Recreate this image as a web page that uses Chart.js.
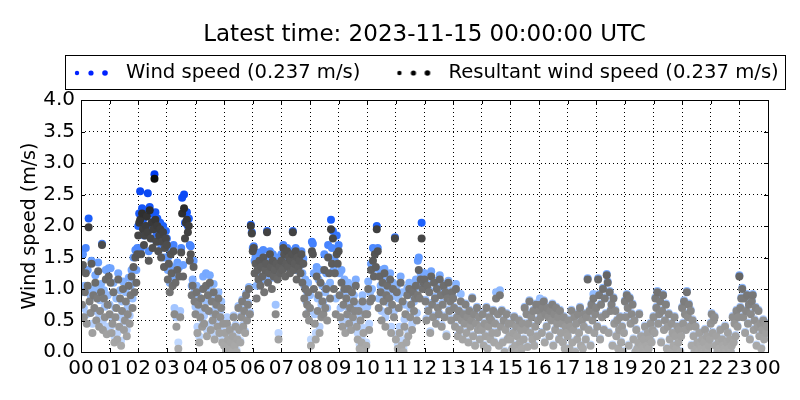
<!DOCTYPE html>
<html>
<head>
<meta charset="utf-8">
<script src="https://cdn.jsdelivr.net/npm/chart.js@4/dist/chart.umd.min.js"></script>
<style>
  html, body { margin: 0; padding: 0; background: #fff; }
  #wrap { width: 800px; height: 400px; }
</style>
</head>
<body>
<div id="wrap"><canvas id="chart" width="800" height="400"></canvas></div>
<script>
// one sample every 2 minutes, 30 per hour
const stepHours = 1 / 30;
const titleText = 'Latest time: 2023-11-15 00:00:00 UTC';
const seriesLabels = ['Wind speed (0.237 m/s)', 'Resultant wind speed (0.237 m/s)'];

const windSpeed = [
  1.60, 0.95, 1.55, 0.70, 1.05, 1.65, 0.60, 1.30, 2.12, 0.98, 0.90, 1.45, 0.45, 1.00, 0.88, 1.22, 0.65, 0.98, 1.42, 0.55, 0.82, 1.08, 1.72, 0.50, 0.98, 0.72, 1.30, 0.40, 0.90, 1.33, // 00
  0.75, 1.33, 0.42, 0.55, 1.10, 0.25, 0.70, 0.85, 0.30, 1.25, 0.55, 0.98, 0.18, 0.80, 1.12, 0.48, 0.62, 0.95, 0.35, 0.72, 1.18, 0.58, 1.05, 1.30, 0.85, 1.50, 1.10, 1.62, 1.30, 1.65, // 01
  2.00, 2.20, 2.55, 1.65, 2.28, 2.10, 1.85, 2.00, 2.15, 2.25, 2.52, 1.60, 2.30, 1.95, 2.20, 1.80, 2.08, 2.82, 2.22, 1.90, 2.12, 1.75, 1.98, 2.05, 1.65, 1.88, 2.00, 1.50, 1.78, 1.92, // 02
  1.80, 1.30, 1.52, 1.10, 1.60, 1.35, 1.20, 1.70, 0.70, 1.22, 0.55, 1.42, 0.15, 1.35, 0.65, 1.65, 2.45, 1.38, 2.50, 2.05, 2.20, 2.22, 2.00, 2.12, 1.70, 1.68, 1.05, 1.15, 1.45, 0.95, // 03
  0.72, 1.05, 0.40, 0.88, 0.25, 0.68, 1.00, 0.52, 1.20, 0.58, 0.82, 1.25, 0.35, 1.02, 0.80, 1.22, 0.45, 0.92, 0.62, 1.08, 0.28, 0.70, 0.85, 0.50, 0.95, 0.38, 0.65, 0.80, 0.22, 0.52, // 04
  0.13, 0.33, 0.05, 0.55, 0.23, 0.08, 0.38, 0.18, 0.03, 0.28, 0.58, 0.13, 0.43, 0.03, 0.23, 0.73, 0.38, 0.18, 0.58, 0.83, 0.43, 0.68, 0.33, 0.93, 0.53, 0.78, 1.03, 0.63, 2.02, 1.90, // 05
  1.65, 1.68, 1.45, 1.52, 1.05, 1.40, 1.35, 1.58, 1.20, 1.45, 1.38, 1.62, 1.15, 1.42, 1.50, 1.92, 1.25, 1.38, 1.60, 1.45, 1.18, 1.55, 1.32, 1.40, 0.75, 1.50, 1.28, 0.30, 1.48, 1.38, // 06
  1.55, 1.42, 1.70, 1.62, 1.35, 1.50, 1.65, 1.45, 1.58, 1.38, 1.52, 1.60, 1.92, 1.40, 1.48, 1.65, 1.30, 1.58, 1.45, 1.52, 1.38, 1.60, 1.25, 1.48, 1.05, 1.15, 0.80, 0.95, 1.10, 0.65, // 07
  0.90, 0.20, 1.75, 1.72, 1.25, 0.60, 0.30, 1.35, 0.85, 1.15, 0.40, 1.30, 0.75, 1.05, 0.80, 1.55, 0.95, 1.25, 0.70, 1.70, 1.50, 1.10, 2.10, 1.65, 1.92, 1.30, 1.45, 0.85, 1.85, 1.60, // 08
  1.70, 1.25, 0.70, 1.30, 0.50, 0.95, 1.15, 0.40, 0.95, 0.72, 1.10, 0.55, 0.82, 0.45, 1.05, 0.65, 0.90, 0.75, 1.15, 0.50, 0.30, 0.75, 0.12, 0.60, 0.22, 0.90, 0.38, 0.05, 0.70, 0.15, // 09
  0.72, 1.12, 0.45, 0.95, 1.40, 1.00, 1.65, 1.32, 1.62, 1.60, 2.00, 1.65, 0.85, 1.30, 1.05, 0.65, 1.22, 0.92, 1.32, 0.55, 1.00, 1.15, 0.78, 0.95, 1.25, 0.40, 0.88, 1.10, 0.65, 1.82, // 10
  0.28, 1.05, 0.12, 0.85, 0.40, 1.20, 0.18, 0.95, 0.05, 0.52, 0.75, 0.22, 1.02, 0.32, 1.10, 0.70, 0.90, 0.45, 1.05, 0.80, 1.00, 1.15, 0.62, 1.45, 1.50, 1.05, 1.25, 2.05, 1.12, 1.25, // 11
  1.25, 0.83, 0.53, 1.08, 0.68, 0.98, 0.33, 1.28, 0.78, 0.58, 1.13, 0.88, 0.55, 1.03, 0.73, 0.63, 1.22, 0.93, 0.43, 0.78, 1.08, 0.58, 0.98, 0.28, 0.88, 1.13, 0.68, 0.83, 0.53, 0.98, // 12
  0.87, 0.72, 0.42, 1.08, 0.57, 0.27, 0.67, 0.37, 0.92, 0.52, 0.22, 0.62, 0.47, 0.77, 0.32, 0.57, 0.17, 0.67, 0.42, 0.52, 0.87, 0.27, 0.62, 0.12, 0.47, 0.72, 0.37, 0.57, 0.22, 0.42, // 13
  0.37, 0.62, 0.12, 0.47, 0.27, 0.72, 0.07, 0.42, 0.57, 0.22, 0.52, 0.32, 0.67, 0.17, 0.47, 0.95, 0.32, 0.62, 0.12, 0.98, 0.42, 0.67, 0.17, 0.52, 0.02, 0.37, 0.62, 0.22, 0.47, 0.27, // 14
  0.22, 0.47, 0.07, 0.32, 0.57, 0.12, 0.42, 0.27, 0.02, 0.52, 0.17, 0.37, 0.07, 0.47, 0.22, 0.72, 0.37, 0.62, 0.10, 0.47, 0.82, 0.32, 0.57, 0.22, 0.67, 0.12, 0.42, 0.77, 0.27, 0.52, // 15
  0.67, 0.85, 0.57, 0.32, 0.72, 0.82, 0.17, 0.62, 0.42, 0.72, 0.57, 0.27, 0.67, 0.52, 0.77, 0.12, 0.62, 0.37, 0.72, 0.47, 0.57, 0.22, 0.67, 0.32, 0.47, 0.17, 0.57, 0.07, 0.42, 0.32, // 16
  0.27, 0.52, 0.07, 0.42, 0.67, 0.17, 0.37, 0.57, 0.02, 0.47, 0.22, 0.62, 0.32, 0.72, 0.12, 0.52, 0.07, 0.42, 0.62, 0.22, 0.57, 1.17, 0.37, 0.67, 0.12, 0.77, 0.52, 0.92, 0.32, 0.62, // 17
  0.72, 0.42, 1.17, 0.92, 0.22, 0.77, 0.57, 1.02, 0.37, 0.87, 0.62, 1.24, 1.12, 0.32, 0.97, 0.67, 0.77, 0.12, 0.87, 0.47, 0.67, 0.27, 0.52, 0.07, 0.37, 0.57, 0.17, 0.42, 0.02, 0.32, // 18
  0.82, 0.57, 0.92, 0.72, 0.12, 0.87, 0.47, 0.62, 0.77, 0.22, 0.52, 0.02, 0.37, 0.07, 0.17, 0.62, 0.02, 0.27, 0.12, 0.07, 0.22, 0.42, 0.34, 0.12, 0.32, 0.07, 0.22, 0.47, 0.17, 0.37, // 19
  0.57, 0.32, 0.87, 0.72, 0.97, 0.47, 0.62, 0.82, 0.17, 0.67, 0.92, 0.37, 0.52, 0.77, 0.07, 0.42, 0.62, 0.22, 0.02, 0.47, 0.32, 0.12, 0.57, 0.27, 0.07, 0.42, 0.17, 0.37, 0.02, 0.27, // 20
  0.72, 0.47, 0.82, 0.62, 0.37, 0.97, 0.57, 0.77, 0.42, 0.67, 0.12, 0.52, 0.27, 0.02, 0.42, 0.07, 0.17, 0.02, 0.32, 0.12, 0.07, 0.22, 0.02, 0.17, 0.37, 0.07, 0.27, 0.02, 0.12, 0.22, // 21
  0.47, 0.62, 0.32, 0.52, 0.57, 0.12, 0.27, 0.02, 0.17, 0.07, 0.37, 0.02, 0.22, 0.12, 0.07, 0.42, 0.02, 0.17, 0.32, 0.07, 0.22, 0.02, 0.12, 0.57, 0.17, 0.47, 0.27, 0.67, 0.42, 0.57, // 22
  1.22, 0.72, 0.87, 1.02, 0.57, 0.87, 0.32, 0.67, 0.92, 0.47, 0.77, 0.22, 0.62, 0.82, 0.92, 0.37, 0.52, 0.72, 0.12, 0.42, 0.67, 0.27, 0.47, 0.07, 0.37, 0.52, 0.22, 0.47, 0.32, 0.42  // 23
];

const resultantSpeed = [
  1.30, 0.75, 1.38, 0.55, 0.95, 1.25, 0.45, 1.05, 1.98, 0.80, 0.62, 1.40, 0.30, 0.90, 0.70, 1.10, 0.50, 0.85, 1.28, 0.40, 0.65, 0.95, 1.70, 0.35, 0.85, 0.55, 1.15, 0.28, 0.75, 1.20, // 00
  0.60, 1.10, 0.30, 0.45, 0.95, 0.15, 0.55, 0.70, 0.20, 1.15, 0.40, 0.85, 0.10, 0.65, 1.00, 0.35, 0.50, 0.80, 0.25, 0.60, 1.05, 0.45, 0.90, 1.20, 0.70, 1.35, 0.95, 1.50, 1.10, 1.55, // 01
  1.85, 2.05, 2.10, 1.55, 2.20, 1.95, 1.70, 1.85, 2.00, 2.15, 1.90, 1.45, 2.25, 1.80, 2.05, 1.65, 1.95, 2.75, 2.10, 1.75, 2.00, 1.60, 1.85, 1.95, 1.50, 1.75, 1.90, 1.35, 1.65, 1.80, // 02
  1.70, 1.15, 1.40, 0.95, 1.55, 1.25, 1.05, 1.60, 0.60, 1.10, 0.40, 1.30, 0.05, 1.20, 0.55, 1.58, 2.20, 1.20, 2.28, 1.80, 2.05, 2.10, 1.90, 2.00, 1.45, 1.55, 0.90, 1.05, 1.35, 0.80, // 03
  0.60, 0.95, 0.30, 0.75, 0.15, 0.55, 0.85, 0.40, 1.00, 0.45, 0.70, 1.05, 0.25, 0.90, 0.65, 1.10, 0.35, 0.80, 0.50, 0.95, 0.20, 0.60, 0.75, 0.40, 0.85, 0.30, 0.55, 0.70, 0.15, 0.45, // 04
  0.10, 0.30, 0.02, 0.45, 0.20, 0.05, 0.35, 0.15, 0.00, 0.25, 0.55, 0.10, 0.40, 0.00, 0.20, 0.70, 0.35, 0.15, 0.55, 0.80, 0.40, 0.65, 0.30, 0.90, 0.50, 0.75, 1.00, 0.60, 2.00, 1.88, // 05
  1.60, 1.65, 1.25, 1.40, 0.85, 1.30, 1.15, 1.45, 1.05, 1.35, 1.20, 1.50, 0.95, 1.30, 1.40, 1.90, 1.10, 1.25, 1.55, 1.35, 1.00, 1.45, 1.20, 1.30, 0.60, 1.40, 1.15, 0.20, 1.35, 1.25, // 06
  1.45, 1.30, 1.65, 1.55, 1.20, 1.40, 1.60, 1.35, 1.50, 1.25, 1.45, 1.55, 1.90, 1.30, 1.40, 1.60, 1.15, 1.50, 1.35, 1.45, 1.25, 1.55, 1.10, 1.40, 0.85, 1.00, 0.60, 0.75, 0.95, 0.50, // 07
  0.70, 0.10, 1.60, 1.55, 1.00, 0.45, 0.20, 1.20, 0.65, 0.90, 0.30, 1.10, 0.55, 0.80, 0.60, 1.30, 0.70, 1.00, 0.50, 1.50, 1.25, 0.85, 1.95, 1.40, 1.80, 1.00, 1.25, 0.60, 1.55, 1.40, // 08
  1.60, 0.90, 0.55, 1.10, 0.40, 0.75, 1.00, 0.30, 0.85, 0.60, 1.00, 0.45, 0.70, 0.35, 0.95, 0.55, 0.80, 0.65, 1.05, 0.40, 0.20, 0.65, 0.05, 0.50, 0.15, 0.80, 0.30, 0.00, 0.60, 0.10, // 09
  0.60, 1.00, 0.35, 0.80, 1.30, 0.85, 1.45, 1.20, 1.55, 1.35, 1.95, 1.60, 0.70, 1.20, 0.95, 0.50, 1.10, 0.80, 1.25, 0.40, 0.90, 1.05, 0.65, 0.85, 1.15, 0.30, 0.75, 1.00, 0.55, 1.80, // 10
  0.20, 0.95, 0.05, 0.70, 0.30, 1.10, 0.10, 0.80, 0.00, 0.40, 0.60, 0.15, 0.90, 0.25, 1.00, 0.55, 0.75, 0.35, 0.95, 0.65, 0.85, 1.05, 0.50, 0.90, 1.30, 0.85, 1.15, 1.80, 1.00, 1.10, // 11
  1.15, 0.80, 0.50, 1.05, 0.65, 0.95, 0.30, 1.20, 0.75, 0.55, 1.10, 0.85, 0.45, 1.00, 0.70, 0.60, 1.15, 0.90, 0.40, 0.75, 1.05, 0.55, 0.95, 0.25, 0.85, 1.10, 0.65, 0.80, 0.50, 0.95, // 12
  0.85, 0.70, 0.40, 1.00, 0.55, 0.25, 0.65, 0.35, 0.80, 0.50, 0.20, 0.60, 0.45, 0.75, 0.30, 0.55, 0.15, 0.65, 0.40, 0.50, 0.85, 0.25, 0.60, 0.10, 0.45, 0.70, 0.35, 0.55, 0.20, 0.40, // 13
  0.35, 0.60, 0.10, 0.45, 0.25, 0.70, 0.05, 0.40, 0.55, 0.20, 0.50, 0.30, 0.65, 0.15, 0.45, 0.85, 0.30, 0.60, 0.10, 0.90, 0.40, 0.65, 0.15, 0.50, 0.00, 0.35, 0.60, 0.20, 0.45, 0.25, // 14
  0.20, 0.45, 0.05, 0.30, 0.55, 0.10, 0.40, 0.25, 0.00, 0.50, 0.15, 0.35, 0.05, 0.45, 0.20, 0.70, 0.35, 0.60, 0.08, 0.45, 0.80, 0.30, 0.55, 0.20, 0.65, 0.10, 0.40, 0.75, 0.25, 0.50, // 15
  0.65, 0.75, 0.55, 0.30, 0.70, 0.80, 0.15, 0.60, 0.40, 0.70, 0.55, 0.25, 0.65, 0.50, 0.75, 0.10, 0.60, 0.35, 0.70, 0.45, 0.55, 0.20, 0.65, 0.30, 0.45, 0.15, 0.55, 0.05, 0.40, 0.30, // 16
  0.25, 0.50, 0.05, 0.40, 0.65, 0.15, 0.35, 0.55, 0.00, 0.45, 0.20, 0.60, 0.30, 0.70, 0.10, 0.50, 0.05, 0.40, 0.60, 0.20, 0.55, 1.15, 0.35, 0.65, 0.10, 0.75, 0.50, 0.85, 0.30, 0.60, // 17
  0.70, 0.40, 1.15, 0.90, 0.20, 0.75, 0.55, 1.00, 0.35, 0.85, 0.60, 1.22, 1.10, 0.30, 0.95, 0.65, 0.75, 0.10, 0.85, 0.45, 0.65, 0.25, 0.50, 0.05, 0.35, 0.55, 0.15, 0.40, 0.00, 0.30, // 18
  0.80, 0.55, 0.90, 0.70, 0.10, 0.85, 0.45, 0.60, 0.75, 0.20, 0.50, 0.00, 0.35, 0.05, 0.15, 0.60, 0.00, 0.25, 0.10, 0.05, 0.20, 0.40, 0.02, 0.10, 0.30, 0.05, 0.20, 0.45, 0.15, 0.35, // 19
  0.55, 0.30, 0.85, 0.70, 0.95, 0.45, 0.60, 0.80, 0.15, 0.65, 0.90, 0.35, 0.50, 0.75, 0.05, 0.40, 0.60, 0.20, 0.00, 0.45, 0.30, 0.10, 0.55, 0.25, 0.05, 0.40, 0.15, 0.35, 0.00, 0.25, // 20
  0.70, 0.45, 0.80, 0.60, 0.35, 0.95, 0.55, 0.75, 0.40, 0.65, 0.10, 0.50, 0.25, 0.00, 0.40, 0.05, 0.15, 0.00, 0.30, 0.10, 0.05, 0.20, 0.00, 0.15, 0.35, 0.05, 0.25, 0.00, 0.10, 0.20, // 21
  0.45, 0.60, 0.30, 0.50, 0.55, 0.10, 0.25, 0.00, 0.15, 0.05, 0.35, 0.00, 0.20, 0.10, 0.05, 0.40, 0.00, 0.15, 0.30, 0.05, 0.20, 0.00, 0.10, 0.55, 0.15, 0.45, 0.25, 0.65, 0.40, 0.55, // 22
  1.20, 0.70, 0.85, 1.00, 0.55, 0.85, 0.30, 0.65, 0.90, 0.45, 0.75, 0.20, 0.60, 0.80, 0.90, 0.35, 0.50, 0.70, 0.10, 0.40, 0.65, 0.25, 0.45, 0.05, 0.35, 0.50, 0.20, 0.45, 0.30, 0.40  // 23
];

// colour ramps: the point shade follows its speed
const greyStops = [[0, 172], [0.3, 160], [0.6, 138], [1.0, 112], [1.5, 88], [2.0, 60], [2.8, 10]];
const blueStops = [[0, [200, 222, 255]], [0.5, [178, 206, 255]], [1.0, [140, 184, 255]], [1.5, [95, 152, 255]], [2.0, [32, 100, 252]], [2.8, [0, 58, 240]]];

function ramp(stops, v) {
    if (v <= stops[0][0]) return stops[0][1];
    for (let i = 1; i < stops.length; i++) {
        if (v <= stops[i][0]) {
            const [v0, c0] = stops[i - 1], [v1, c1] = stops[i];
            const t = (v - v0) / (v1 - v0);
            if (Array.isArray(c0)) return c0.map((c, k) => c + (c1[k] - c) * t);
            return c0 + (c1 - c0) * t;
        }
    }
    return stops[stops.length - 1][1];
}
const greyFor = v => { const g = Math.round(ramp(greyStops, v)); return `rgb(${g},${g},${g})`; };
const blueFor = v => { const c = ramp(blueStops, v).map(Math.round); return `rgb(${c[0]},${c[1]},${c[2]})`; };

const toPoints = arr => arr.map((v, i) => ({ x: i * stepHours, y: v }));

const font = 'DejaVu Sans';

// three little dots for the legend, like the matplotlib scatter legend
function dotsIcon(color) {
    const c = document.createElement('canvas');
    c.width = 36; c.height = 10;
    const g = c.getContext('2d');
    g.fillStyle = color;
    [[4, 2.2], [18, 2.6], [32, 2.8]].forEach(([x, r]) => {
        g.beginPath(); g.arc(x, 5, r, 0, Math.PI * 2); g.fill();
    });
    return c;
}
const icons = [dotsIcon('#0022ff'), dotsIcon('#000000')];

// frame with inward ticks, plus the boxed legend above the plot
const framePlugin = {
    id: 'frame',
    afterDraw(chart) {
        const { ctx, chartArea: a, scales: { x, y } } = chart;
        ctx.save();
        ctx.strokeStyle = '#000';
        ctx.lineWidth = 1;
        ctx.strokeRect(Math.round(a.left) + 0.5, Math.round(a.top) + 0.5, Math.round(a.right - a.left), Math.round(a.bottom - a.top));
        ctx.beginPath();
        x.ticks.forEach(t => {
            const px = Math.round(x.getPixelForValue(t.value)) + 0.5;
            ctx.moveTo(px, a.bottom); ctx.lineTo(px, a.bottom - 4);
            ctx.moveTo(px, a.top); ctx.lineTo(px, a.top + 4);
        });
        y.ticks.forEach(t => {
            const py = Math.round(y.getPixelForValue(t.value)) + 0.5;
            ctx.moveTo(a.left, py); ctx.lineTo(a.left + 4, py);
            ctx.moveTo(a.right, py); ctx.lineTo(a.right - 4, py);
        });
        ctx.stroke();

        // legend
        const cx = Math.round((a.left + a.right) / 2);
        const left = cx - 360, top = 55, h = 34;
        ctx.strokeRect(left + 0.5, top + 0.5, 720, h);
        ctx.font = `19.6px ${font}`;
        ctx.fillStyle = '#000';
        ctx.textBaseline = 'middle';
        const midY = top + h / 2 + 1;
        let lx = left + 8;
        chart.data.datasets.forEach((ds, i) => {
            ctx.drawImage(icons[i], lx, Math.round(midY - 5));
            ctx.fillText(ds.label, lx + 53, midY);
            lx += 53 + ctx.measureText(ds.label).width + 35;
        });
        ctx.restore();
    }
};

new Chart(document.getElementById('chart'), {
    type: 'scatter',
    data: {
        datasets: [
            {
                label: seriesLabels[0],
                data: toPoints(windSpeed),
                backgroundColor: c => blueFor(c.raw ? c.raw.y : 0),
                pointRadius: 4,
                pointBorderWidth: 0,
                pointHoverRadius: 4,
                clip: 0,
                order: 1
            },
            {
                label: seriesLabels[1],
                data: toPoints(resultantSpeed),
                backgroundColor: c => greyFor(c.raw ? c.raw.y : 0),
                pointRadius: 4,
                pointBorderWidth: 0,
                pointHoverRadius: 4,
                clip: 0,
                order: 0
            }
        ]
    },
    options: {
        responsive: false,
        animation: false,
        events: [],
        layout: { padding: { top: 0, right: 32, bottom: 0, left: 0 } },
        plugins: {
            title: {
                display: true,
                text: titleText,
                color: '#000',
                fullSize: false,
                font: { family: font, size: 23, weight: 'normal', lineHeight: 1.2 },
                padding: { top: 21, bottom: 51.4 }
            },
            legend: { display: false },
            tooltip: { enabled: false }
        },
        scales: {
            x: {
                type: 'linear',
                min: 0,
                max: 24,
                afterFit: s => { s.height = 48; },
                border: { display: false, dash: [1, 3] },
                grid: { color: '#000', lineWidth: 1, drawTicks: false },
                ticks: {
                    stepSize: 1,
                    autoSkip: false,
                    maxRotation: 0,
                    padding: 5,
                    color: '#000',
                    font: { family: font, size: 20 },
                    callback: v => String(v % 24).padStart(2, '0')
                }
            },
            y: {
                min: 0,
                max: 4,
                afterFit: s => { s.width = 81; },
                border: { display: false, dash: [1, 3] },
                grid: { color: '#000', lineWidth: 1, drawTicks: false },
                ticks: {
                    stepSize: 0.5,
                    padding: 6,
                    color: '#000',
                    font: { family: font, size: 20 },
                    callback: v => v.toFixed(1)
                },
                title: {
                    display: true,
                    text: 'Wind speed (m/s)',
                    color: '#000',
                    font: { family: font, size: 19 },
                    padding: { top: 19, bottom: 0 }
                }
            }
        }
    },
    plugins: [framePlugin]
});
</script>
</body>
</html>
